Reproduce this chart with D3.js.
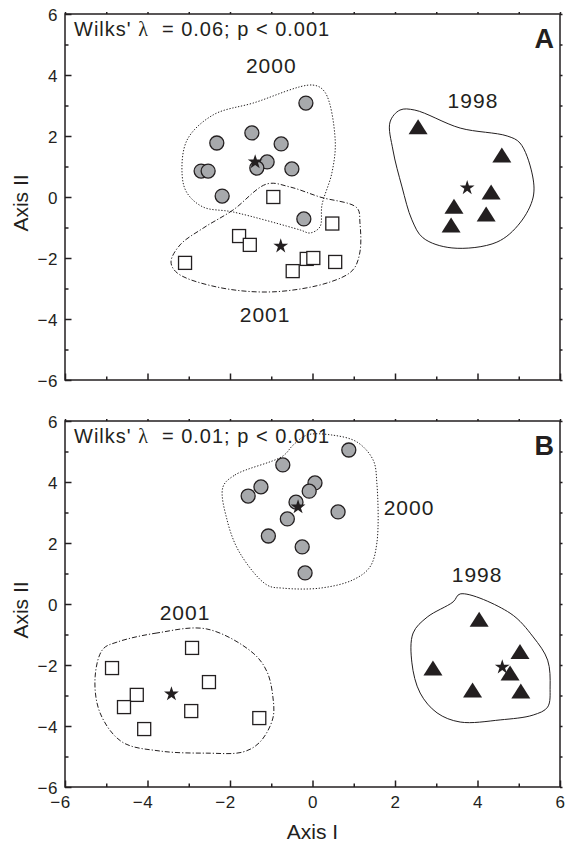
<!DOCTYPE html>
<html lang="en">
<meta charset="utf-8">
<style>
  body{ margin:0; background:#fff }
  text{ font-family:'Liberation Sans', Arial, Helvetica, sans-serif; fill:#231f20 }
  .tick text{ font-size:17px; letter-spacing:0.6px }
  .frame{ fill:none; stroke:#231f20; stroke-width:1.5px }
  .domain{ display:none }
  .tick line{ stroke:#231f20; stroke-width:1.5px }
  .grp{ font-size:21px; letter-spacing:1px; text-anchor:middle }
  .wilks{ font-size:20px; letter-spacing:1px; white-space:pre }
  .panel{ font-size:27px; font-weight:bold }
  .ttl{ font-size:21px; text-anchor:middle }
  .hull{ fill:none; stroke:#231f20; stroke-width:1px }
</style>
<body>
<script src="https://cdn.jsdelivr.net/npm/d3@7"></script>
<script>

  // axis ticks
  var majorTicks = [-6, -4, -2, 0, 2, 4, 6]
  var minorTicks = [-5, -3, -1, 1, 3, 5]

  // panel A scores (Axis I, Axis II)
  var a1998 = [[2.56, 2.30], [4.59, 1.38], [4.33, 0.16], [3.43, -0.30], [4.21, -0.56], [3.36, -0.92]]
  var a2000 = [[-1.47, 2.10], [-2.32, 1.77], [-0.76, 1.74], [-2.70, 0.85], [-2.53, 0.85], [-1.10, 1.15],
               [-1.35, 0.95], [-0.50, 0.92], [-2.19, 0.03], [-0.16, 3.08], [-0.21, -0.72]]
  var a2001 = [[-0.95, 0.00], [-1.78, -1.28], [-1.52, -1.57], [-3.09, -2.16], [-0.48, -2.43],
               [0.48, -0.87], [-0.14, -2.03], [0.02, -2.00], [0.55, -2.13]]
  var aCentroids = [[3.75, 0.30], [-1.39, 1.15], [-0.77, -1.61]]

  // panel A outlines
  var aHull1998 = [[1.88, 2.46], [2.12, 2.85], [2.48, 2.85], [3.58, 2.26], [4.72, 2.00], [5.03, 1.77], [5.32, 0.79],
                   [5.35, 0.00], [5.03, -0.85], [4.47, -1.48], [3.38, -1.67], [2.68, -1.34], [2.41, -0.75],
                   [2.17, 0.33], [1.95, 1.54]]
  var aHull2000 = [[-3.16, 0.72], [-3.04, 1.87], [-2.41, 2.69], [-1.44, 3.08], [0.01, 3.67], [0.30, 3.44],
                   [0.55, 1.87], [0.47, 0.79], [0.23, -0.26], [0.18, -0.98], [-0.06, -1.18], [-0.30, -1.08],
                   [-1.93, -0.49], [-2.65, -0.33], [-3.04, 0.13]]
  var aHull2001 = [[-1.10, 0.43], [-1.93, -0.43], [-2.65, -1.02], [-3.21, -1.57], [-3.43, -2.13], [-3.28, -2.49],
                   [-2.32, -2.95], [-0.96, -3.11], [0.42, -2.79], [0.98, -2.39], [1.15, -1.80], [1.15, -0.85],
                   [1.08, -0.36], [0.18, 0.00], [-0.55, 0.33]]

  // panel B scores
  var b1998 = [[4.04, -0.50], [5.03, -1.56], [2.92, -2.10], [4.79, -2.26], [3.88, -2.82], [5.05, -2.85]]
  var b2000 = [[-0.72, 4.56], [-1.25, 3.84], [-1.56, 3.54], [-0.61, 2.79], [-1.07, 2.23], [-0.40, 3.34],
               [0.88, 5.05], [0.06, 3.97], [-0.08, 3.70], [0.62, 3.02], [-0.25, 1.87], [-0.18, 1.02]]
  var b2001 = [[-2.92, -1.44], [-4.86, -2.10], [-2.51, -2.56], [-4.26, -2.98], [-4.57, -3.38],
               [-2.94, -3.51], [-4.08, -4.10], [-1.29, -3.74]]
  var bCentroids = [[4.60, -2.07], [-0.35, 3.18], [-3.42, -2.95]]

  // panel B outlines
  var bHull1998 = [[3.58, 0.33], [4.79, -0.30], [5.35, -1.08], [5.70, -1.84], [5.76, -2.72], [5.70, -3.38],
                   [5.35, -3.64], [4.55, -3.80], [3.58, -3.87], [3.02, -3.57], [2.61, -2.92], [2.41, -1.93],
                   [2.44, -0.95], [2.78, -0.43], [3.41, 0.07]]
  var bHull2000 = [[-2.17, 3.84], [-1.88, 4.23], [-0.72, 4.85], [-0.47, 5.21], [-0.13, 5.54], [0.47, 5.54],
                   [1.08, 5.31], [1.47, 4.72], [1.56, 3.97], [1.56, 2.00], [1.39, 1.21], [0.98, 0.79],
                   [0.18, 0.52], [-0.72, 0.52], [-1.10, 0.62], [-1.76, 1.67], [-2.07, 2.75]]
  var bHull2001 = [[-2.56, -0.82], [-3.77, -0.95], [-4.74, -1.25], [-5.08, -1.48], [-5.27, -2.39], [-5.15, -3.57],
                   [-4.62, -4.52], [-3.70, -4.82], [-2.56, -4.89], [-1.68, -4.85], [-1.27, -4.52], [-0.96, -3.74],
                   [-0.96, -3.05], [-1.10, -2.23], [-1.44, -1.61]]

  // year labels [year, Axis I, Axis II]
  var aLabels = [['1998', 3.89, 2.92], ['2000', -1.00, 4.07], ['2001', -1.15, -4.10]]
  var bLabels = [['1998', 3.99, 0.72], ['2000', 2.34, 2.92], ['2001', -3.09, -0.52]]

  var panels = [
    {id: 'A', wilks: '0.06', top: 14, s1998: a1998, s2000: a2000, s2001: a2001, cent: aCentroids,
     h1998: aHull1998, h2000: aHull2000, h2001: aHull2001, labels: aLabels, xlab: false},
    {id: 'B', wilks: '0.01', top: 421, s1998: b1998, s2000: b2000, s2001: b2001, cent: bCentroids,
     h1998: bHull1998, h2000: bHull2000, h2001: bHull2001, labels: bLabels, xlab: true}
  ]

  var W = 566, H = 847
  var left = 65, right = 560, ph = 366
  var svg = d3.select('body').append('svg').attr('width', W).attr('height', H)

  var x = d3.scaleLinear().domain([-6, 6]).range([left, right])

  var curve = d3.curveCatmullRomClosed.alpha(0.5)

  panels.forEach(function(p){
    var y = d3.scaleLinear().domain([-6, 6]).range([p.top + ph, p.top])
    var g = svg.append('g')
    var line = d3.line().x(d => x(d[0])).y(d => y(d[1])).curve(curve)

    // outlines
    g.append('path').attr('class', 'hull').attr('d', line(p.h1998))
    g.append('path').attr('class', 'hull').attr('d', line(p.h2000))
      .style('stroke-dasharray', '1.3,1.7')
    g.append('path').attr('class', 'hull').attr('d', line(p.h2001))
      .style('stroke-dasharray', '5,2,1.2,2')

    // axes: major + minor ticks
    function axes(maker, scale, tr, major, minor, labels){
      var a = g.append('g').attr('transform', tr)
        .call(maker(scale).tickValues(majorTicks).tickSize(major).tickPadding(7)
          .tickFormat(labels ? d3.format('d') : ''))
      g.append('g').attr('transform', tr)
        .call(maker(scale).tickValues(minorTicks).tickSize(minor).tickFormat(''))
      return a
    }
    var yl = axes(d3.axisLeft, y, 'translate(' + left + ',0)', -6.5, -3.5, true)
    var xb = axes(d3.axisBottom, x, 'translate(0,' + (p.top + ph) + ')', -6.5, -3.5, p.xlab)
    axes(d3.axisTop, x, 'translate(0,' + p.top + ')', 2, 2, false)
    axes(d3.axisRight, y, 'translate(' + right + ',0)', 2.5, 2.5, false)
    yl.selectAll('text').attr('dy', '0.36em')
    xb.selectAll('text').attr('y', 9)
      .attr('dx', d => d < 0 ? -5 : 0)

    g.append('rect').attr('class', 'frame')
      .attr('x', left).attr('y', p.top).attr('width', right - left).attr('height', ph)

    // 2000: grey circles
    g.selectAll('.c2000').data(p.s2000).enter().append('circle')
      .attr('cx', d => x(d[0])).attr('cy', d => y(d[1])).attr('r', 7)
      .attr('fill', '#a7a9ac').attr('stroke', '#231f20').attr('stroke-width', 1.3)

    // 2001: open squares
    g.selectAll('.s2001').data(p.s2001).enter().append('rect')
      .attr('x', d => x(d[0]) - 6.5).attr('y', d => y(d[1]) - 6.5)
      .attr('width', 13).attr('height', 13)
      .attr('fill', '#fff').attr('stroke', '#231f20').attr('stroke-width', 1.3)

    // 1998: black triangles
    g.selectAll('.t1998').data(p.s1998).enter().append('path')
      .attr('d', function(d){
        var cx = x(d[0]), cy = y(d[1])
        return 'M' + cx + ',' + (cy - 7.5) + 'L' + (cx + 9.5) + ',' + (cy + 7.5) + 'L' + (cx - 9.5) + ',' + (cy + 7.5) + 'Z'
      })
      .attr('fill', '#231f20')

    // group centroids
    g.selectAll('.star').data(p.cent).enter().append('path')
      .attr('transform', d => 'translate(' + x(d[0]) + ',' + y(d[1]) + ')')
      .attr('d', d3.symbol().type(d3.symbolStar).size(68))
      .attr('fill', '#231f20')

    // year labels
    g.selectAll('.grp').data(p.labels).enter().append('text').attr('class', 'grp')
      .attr('x', d => x(d[1])).attr('y', d => y(d[2])).text(d => d[0])

    // statistic
    var w = g.append('text').attr('class', 'wilks').attr('x', left + 9).attr('y', p.top + 22)
    w.append('tspan').text("Wilks' ")
    w.append('tspan').style('font-family', "'Liberation Serif', 'Times New Roman', serif").text('λ')
    w.append('tspan').text('  = ' + p.wilks + '; p < 0.001')

    g.append('text').attr('class', 'panel').attr('x', right - 6).attr('y', p.top + 34)
      .attr('text-anchor', 'end').text(p.id)

    g.append('text').attr('class', 'ttl')
      .attr('transform', 'translate(28,' + (p.top + ph / 2 + 6) + ') rotate(-90)')
      .text('Axis II')
  })

  svg.append('text').attr('class', 'ttl').attr('x', (left + right) / 2).attr('y', 839).text('Axis I')
</script>
</body>
</html>
